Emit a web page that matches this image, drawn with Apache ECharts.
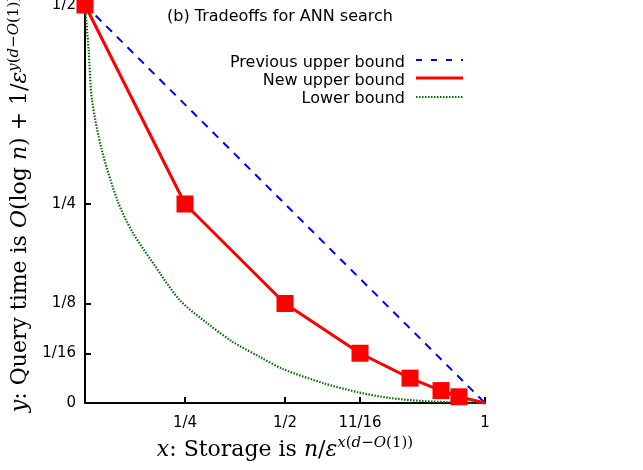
<!DOCTYPE html>
<html>
<head>
<meta charset="utf-8">
<script src="https://cdn.jsdelivr.net/npm/echarts@6/dist/echarts.min.js"></script>
<style>html,body{margin:0;padding:0;background:#fff}#c{width:643px;height:470px}</style>
</head>
<body>
<div id="c"></div>
<script>
var xTicks = [0.25, 0.5, 0.6875, 1];
var xTickLabels = {0.25: '1/4', 0.5: '1/2', 0.6875: '11/16', 1: '1'};
var yTicks = [0.0625, 0.125, 0.25, 0.5];
var yLabelValues = [0, 0.0625, 0.125, 0.25, 0.5];
var yTickLabels = {0: '0', 0.0625: '1/16', 0.125: '1/8', 0.25: '1/4', 0.5: '1/2'};

var prevUpperX = [0, 1];
var prevUpperY = [0.5, 0];

var newUpperX = [0, 0.25, 0.5, 0.6875, 0.8125, 0.89, 0.935, 1];
var newUpperY = [0.5, 0.25, 0.125, 0.0625, 0.03125, 0.0156, 0.0078, 0];
var newUpperMarked = [true, true, true, true, true, true, true, false];

var lowerX = [0, 0.009, 0.0175, 0.042, 0.0825, 0.12, 0.17, 0.2375, 0.305, 0.37, 0.4375, 0.495, 0.595, 0.68, 0.7625, 0.845, 0.93, 1];
var lowerY = [0.5, 0.444, 0.381, 0.318, 0.2525, 0.2136, 0.176, 0.129, 0.1005, 0.0766, 0.0578, 0.0427, 0.0251, 0.0138, 0.0063, 0.0025, 0.0005, 0];

var legendNames = ['Previous upper bound', 'New upper bound', 'Lower bound'];
var titleText = '(b) Tradeoffs for ANN search';

function zip(a, b) { return a.map(function (v, i) { return [v, b[i]]; }); }

var serif = 'DejaVu Serif';
var rich = {
  r: {fontFamily: serif, fontSize: 22, color: '#000', lineHeight: 25, verticalAlign: 'bottom'},
  i: {fontFamily: serif, fontSize: 22, fontStyle: 'italic', color: '#000', lineHeight: 25, verticalAlign: 'bottom'},
  s: {fontFamily: serif, fontSize: 15, color: '#000', lineHeight: 15, verticalAlign: 'top'},
  si: {fontFamily: serif, fontSize: 15, fontStyle: 'italic', color: '#000', lineHeight: 15, verticalAlign: 'top'}
};

var chart = echarts.init(document.getElementById('c'), null, {renderer: 'canvas'});
var sans = 'DejaVu Sans';
var tfont = '16px "DejaVu Sans"';
var option = {
  animation: false,
  backgroundColor: '#fff',
  grid: {left: 85, right: 158, top: 5, bottom: 67, containLabel: false, outerBoundsMode: 'none'},
  xAxis: {
    type: 'value', min: 0, max: 1,
    name: '{i|x}{r|: Storage is }{i|n}{r|/}{i|ε}{si|x}{s|(}{si|d}{s|−}{si|O}{s|(1))}',
    nameLocation: 'middle', nameGap: 30,
    nameTextStyle: {rich: rich},
    axisLine: {lineStyle: {color: '#000', width: 2}},
    axisTick: {inside: true, length: 6, customValues: xTicks, lineStyle: {color: '#000', width: 2}},
    axisLabel: {customValues: xTicks, margin: 13, fontFamily: sans, fontSize: 15, color: '#000',
      formatter: function (v) { return xTickLabels[v]; }},
    splitLine: {show: false}
  },
  yAxis: {
    type: 'value', min: 0, max: 0.5,
    name: '{i|y}{r|: Query time is }{i|O}{r|(log }{i|n}{r|) + 1/}{i|ε}{si|y}{s|(}{si|d}{s|−}{si|O}{s|(1))}',
    nameLocation: 'middle', nameGap: 47, nameRotate: 90,
    nameTextStyle: {rich: rich},
    axisLine: {lineStyle: {color: '#000', width: 2}},
    axisTick: {inside: true, length: 6, customValues: yTicks, lineStyle: {color: '#000', width: 2}},
    axisLabel: {customValues: yLabelValues, margin: 9, fontFamily: sans, fontSize: 15, color: '#000',
      formatter: function (v) { return yTickLabels[v]; }},
    splitLine: {show: false}
  },
  graphic: [
    {type: 'text', left: 167, top: 9, style: {text: titleText, font: tfont, fill: '#000'}},
    {type: 'text', x: 405, y: 63, style: {text: legendNames[0], font: tfont, fill: '#000', align: 'right', verticalAlign: 'middle'}},
    {type: 'text', x: 405, y: 81, style: {text: legendNames[1], font: tfont, fill: '#000', align: 'right', verticalAlign: 'middle'}},
    {type: 'text', x: 405, y: 99, style: {text: legendNames[2], font: tfont, fill: '#000', align: 'right', verticalAlign: 'middle'}},
    {type: 'line', shape: {x1: 416, y1: 60, x2: 463, y2: 60}, style: {stroke: '#0000ff', lineWidth: 2, lineDash: [6, 9]}},
    {type: 'line', shape: {x1: 416, y1: 78, x2: 463, y2: 78}, style: {stroke: '#ff0000', lineWidth: 3}},
    {type: 'line', shape: {x1: 416, y1: 97, x2: 463, y2: 97}, style: {stroke: '#007000', lineWidth: 2, lineDash: [1.5, 1.5]}}
  ],
  series: [
    {type: 'line', data: zip(prevUpperX, prevUpperY), showSymbol: false, symbol: 'none', clip: false,
      lineStyle: {color: '#0000ff', width: 2, type: [8, 7]}},
    {type: 'line', data: zip(lowerX, lowerY), showSymbol: false, symbol: 'none', clip: false,
      smooth: 0.3,
      lineStyle: {color: '#007000', width: 2.2, type: [1.5, 1.5]}},
    {type: 'line', clip: false,
      data: newUpperX.map(function (x, i) {
        return {value: [x, newUpperY[i]], symbol: newUpperMarked[i] ? 'rect' : 'none'};
      }),
      symbolSize: 17, showAllSymbol: true,
      itemStyle: {color: '#ff0000'},
      lineStyle: {color: '#ff0000', width: 3}}
  ]
};
chart.setOption(option);
</script>
</body>
</html>
